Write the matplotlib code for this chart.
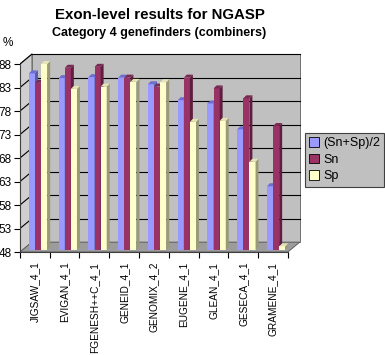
import matplotlib
matplotlib.use("Agg")
import matplotlib.pyplot as plt
from matplotlib.patches import Polygon, Patch
import numpy as np

plt.rcParams['font.family'] = ['Liberation Sans', 'DejaVu Sans']

programs = ["JIGSAW_4_1", "EVIGAN_4_1", "FGENESH++C_4_1", "GENEID_4_1", "GENOMIX_4_2",
            "EUGENE_4_1", "GLEAN_4_1", "GESECA_4_1", "GRAMENE_4_1"]
series_names = ["(Sn+Sp)/2", "Sn", "Sp"]
avg = [86.0, 85.0, 85.2, 85.1, 83.7, 80.3, 79.6, 74.1, 62.0]
sn = [84.0, 87.2, 87.4, 85.1, 83.2, 85.1, 82.8, 80.7, 74.8]
sp = [88.0, 82.7, 83.2, 84.2, 84.1, 75.7, 75.9, 67.2, 49.2]
yticks = [48, 53, 58, 63, 68, 73, 78, 83, 88]

front = ["#9999ff", "#993366", "#ffffcc"]
side = ["#5a5aa8", "#5e1e40", "#9a9a78"]
top = ["#6e6ed0", "#7a2a52", "#e4e4b4"]

ymin, ymax = 48, 88
n = len(programs)
# fake 3D depth (wall and bars), in data units
dxw, dyw = 0.40, 2.1
ddx, ddy = 0.10, 0.64
bw, c0, base = 0.205, 0.30, 48.45

fig = plt.figure(figsize=(3.85, 3.55), dpi=100)
ax = fig.add_axes([0.0519, 0.2901, 0.7343, 0.5627])
ax.set_xlim(0, n + 0.5)
ax.set_ylim(ymin, 90.5)
ax.patch.set_visible(False)

# walls and floor
ax.add_patch(Polygon([(0, ymin), (dxw, ymin + dyw), (dxw, ymax + dyw), (0, ymax)],
                     closed=True, fc="#cfcfcf", ec="#707070", lw=0.7, zorder=0))
ax.add_patch(Polygon([(dxw, ymin + dyw), (n + dxw, ymin + dyw), (n + dxw, ymax + dyw), (dxw, ymax + dyw)],
                     closed=True, fc="#c0c0c0", ec="#707070", lw=0.7, zorder=0))
ax.add_patch(Polygon([(0, ymin), (n, ymin), (n + dxw, ymin + dyw), (dxw, ymin + dyw)],
                     closed=True, fc="#9c9c9c", ec="#606060", lw=0.7, zorder=0.5))
for t in yticks[1:]:
    ax.plot([dxw, n + dxw], [t + dyw, t + dyw], color="black", lw=0.8, zorder=0.2)
    ax.plot([0, dxw], [t, t + dyw], color="black", lw=0.8, zorder=0.2)

data = [avg, sn, sp]
for i in range(n):
    for j in range(3):
        v = data[j][i]
        x = i + c0 + j * bw
        z = 2 + i * 3 + j
        ax.bar(x, v - base, bottom=base, width=bw, align="edge", color=front[j],
               edgecolor="none", zorder=z)
        ax.add_patch(Polygon([(x + bw, base), (x + bw + ddx, base + ddy), (x + bw + ddx, v + ddy), (x + bw, v)],
                             closed=True, fc=side[j], ec="none", zorder=z))
        ax.add_patch(Polygon([(x, v), (x + ddx, v + ddy), (x + bw + ddx, v + ddy), (x + bw, v)],
                             closed=True, fc=top[j], ec="none", zorder=z))

for s in ["top", "right"]:
    ax.spines[s].set_visible(False)
ax.spines["left"].set_bounds(ymin, ymax)
ax.spines["bottom"].set_bounds(0, n)
ax.spines["left"].set_color("#404040")
ax.spines["bottom"].set_color("#404040")
ax.set_yticks(yticks)
ax.set_yticklabels([str(t) for t in yticks], fontsize=8.5)
ax.tick_params(axis="y", length=4, width=0.8, pad=2)
ax.set_xticks(np.arange(n + 1))
ax.set_xticklabels([])
ax.tick_params(axis="x", which="major", length=4, width=0.8)
ax.set_xticks(np.arange(n) + 0.5, minor=True)
ax.set_xticklabels(programs, minor=True, rotation=90, fontsize=7.3)
ax.tick_params(axis="x", which="minor", length=0, pad=7)

fig.text(160 / 385, 1 - 15 / 355, "Exon-level results for NGASP", ha="center", va="center",
         fontsize=10.8, fontweight="bold")
fig.text(159 / 385, 1 - 33 / 355, "Category 4 genefinders (combiners)", ha="center", va="center",
         fontsize=9, fontweight="bold")
fig.text(3 / 385, 1 - 43 / 355, "%", ha="left", va="center", fontsize=8.5)

handles = [Patch(facecolor=front[j], edgecolor="black", linewidth=0.6) for j in range(3)]
leg = fig.legend(handles, series_names, loc="upper left", bbox_to_anchor=(305 / 385, 1 - 133 / 355),
                 fontsize=9, frameon=True, fancybox=False, framealpha=1, borderaxespad=0,
                 handlelength=0.8, handleheight=0.8, handletextpad=0.3, labelspacing=0.35,
                 borderpad=0.35)
leg.get_frame().set_facecolor("#c0c0c0")
leg.get_frame().set_edgecolor("#404040")
leg.get_frame().set_linewidth(0.8)

fig.savefig("out.png", dpi=100)
